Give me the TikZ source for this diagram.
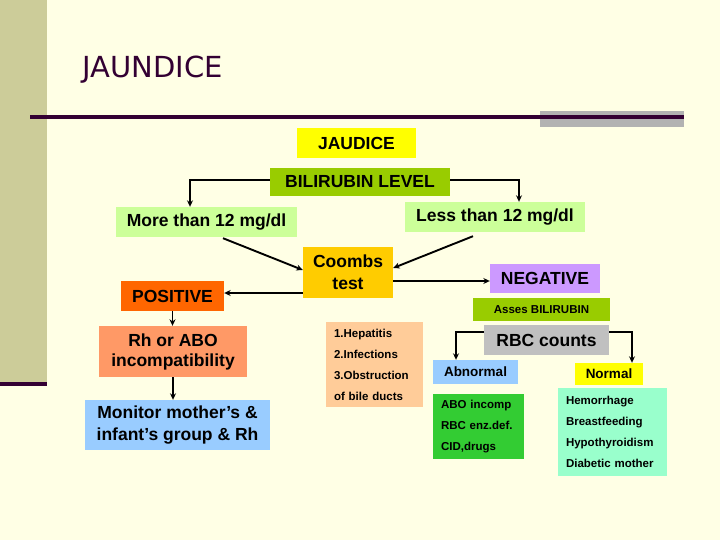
\documentclass[tikz,border=0pt]{standalone}
\usepackage{fontspec}
\setmainfont{Liberation Sans}
\newfontfamily\titlefont{DejaVu Sans}
\usepackage{xcolor}
\usetikzlibrary{arrows.meta}

\definecolor{cream}{HTML}{FFFFE5}
\definecolor{khaki}{HTML}{CCCC99}
\definecolor{plum}{HTML}{330033}
\definecolor{slate}{HTML}{B2B2B2}
\definecolor{lemon}{HTML}{FFFF00}
\definecolor{leaf}{HTML}{99CC00}
\definecolor{mint}{HTML}{CCFF99}
\definecolor{amber}{HTML}{FFCC00}
\definecolor{tangerine}{HTML}{FF6600}
\definecolor{lilac}{HTML}{CC99FF}
\definecolor{salmon}{HTML}{FF9966}
\definecolor{sky}{HTML}{99CCFF}
\definecolor{peach}{HTML}{FFCC99}
\definecolor{silver}{HTML}{C0C0C0}
\definecolor{grass}{HTML}{33CC33}
\definecolor{aqua}{HTML}{99FFCC}

\newcommand{\bigtext}{\fontsize{17.5}{22}\selectfont\bfseries}
\newcommand{\smalltext}{\fontsize{11.5}{21}\selectfont\bfseries}

\begin{document}
\begin{tikzpicture}[x=1pt,y=-1pt]
    \tikzset{box/.style={inner sep=0pt, align=center, font=\bigtext},
             list/.style={inner xsep=8pt, inner ysep=0pt, align=left, font=\smalltext},
             arr/.style={-{Stealth[length=6.5pt, width=6pt]}, line width=1.9pt}}
    % slide background
    \useasboundingbox (0,0) rectangle (720,540);
    \fill[cream] (0,0) rectangle (720,540);
    \fill[khaki] (0,0) rectangle (47,383);
    \fill[plum] (0,382) rectangle (47,386);
    \fill[slate] (540,111) rectangle (684,127);
    \draw[plum, line width=3.5pt] (30,117) -- (684,117);
    \node[anchor=base west, text=plum, font=\titlefont\fontsize{29}{35}\selectfont] (title) at (79,78) {JAUNDICE};

    % top of the chart
    \node[box, fill=lemon, minimum width=119, minimum height=30] (jaudice) at (356.5,143) {JAUDICE};
    \node[box, fill=leaf, minimum width=180, minimum height=28] (bili) at (360,182) {BILIRUBIN LEVEL};
    \node[box, fill=mint, minimum width=181, minimum height=30] (more) at (206.5,222) {More than 12 mg/dl};
    \node[box, fill=mint, minimum width=180, minimum height=30] (less) at (495,217) {Less than 12 mg/dl};
    \node[box, fill=amber, minimum width=90, minimum height=51] (coombs) at (348,272) {Coombs\\test};
    \node[box, fill=tangerine, minimum width=103, minimum height=30] (positive) at (172.5,296) {POSITIVE};
    \node[box, fill=lilac, minimum width=110, minimum height=29] (negative) at (545,278.5) {NEGATIVE};
    \node[box, fill=leaf, minimum width=137, minimum height=23, font=\smalltext] (asses) at (541.5,309.5) {Asses BILIRUBIN};

    % positive branch
    \node[box, fill=salmon, minimum width=148, minimum height=51, font=\fontsize{17.5}{20}\selectfont\bfseries] (rh) at (173,351.5) {Rh or ABO\\incompatibility};
    \node[box, fill=sky, minimum width=185, minimum height=50] (monitor) at (177.5,425) {Monitor mother’s \&\\infant’s group \& Rh};

    % negative branch
    \node[list, fill=peach, text width=81, minimum height=85] (causes) at (374.5,364.5) {1.Hepatitis\\2.Infections\\3.Obstruction\\of bile ducts};
    \node[box, fill=silver, minimum width=125, minimum height=30] (rbc) at (546.5,340) {RBC counts};
    \node[box, fill=sky, minimum width=85, minimum height=24, font=\fontsize{13.5}{16}\selectfont\bfseries] (abnormal) at (475.5,372) {Abnormal};
    \node[box, fill=lemon, minimum width=68, minimum height=22, font=\fontsize{13.5}{16}\selectfont\bfseries] (normal) at (609,374) {Normal};
    \node[list, fill=grass, text width=75, minimum height=65] (abnlist) at (478.5,426.5) {ABO incomp\\RBC enz.def.\\CID,drugs};
    \node[list, fill=aqua, text width=93, minimum height=88] (normlist) at (612.5,432) {Hemorrhage\\Breastfeeding\\Hypothyroidism\\Diabetic mother};

    % connectors
    \draw[arr] ([yshift=2pt]bili.west) -| ([xshift=-16.5pt]more.north);
    \draw[arr] ([yshift=2pt]bili.east) -| ([xshift=24pt]less.north);
    \draw[arr] ([xshift=16.5pt, yshift=-1pt]more.south) -- ([yshift=2pt]coombs.west);
    \draw[arr] ([xshift=-22pt, yshift=-4pt]less.south) -- ([yshift=4pt]coombs.east);
    \draw[arr] ([yshift=-9pt]coombs.east) -- ([yshift=-2.5pt]negative.west);
    \draw[arr] ([yshift=-21pt]coombs.west) -- ([yshift=3pt]positive.east);
    \draw[arr] (positive.south) -- (positive.south |- rh.north);
    \draw[arr] (rh.south) -- (rh.south |- monitor.north);
    \draw[arr] ([yshift=8pt]rbc.west) -| ([xshift=-19.5pt]abnormal.north);
    \draw[arr] ([yshift=8pt]rbc.east) -| ([xshift=23pt]normal.north);
\end{tikzpicture}
\end{document}
